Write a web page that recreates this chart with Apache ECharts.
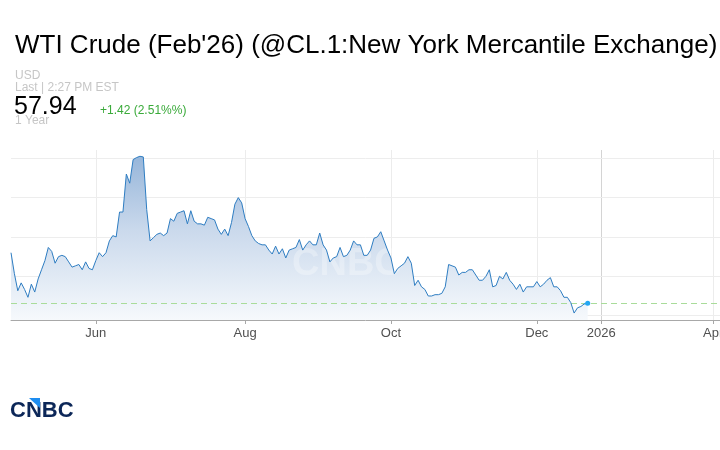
<!DOCTYPE html>
<html>
<head>
<meta charset="utf-8">
<script src="https://cdn.jsdelivr.net/npm/echarts@6/dist/echarts.min.js"></script>
<style>
html,body{margin:0;padding:0;background:#fff;}
#c{width:720px;height:450px;}
</style>
</head>
<body>
<div id="c"></div>
<script>
// ---- data ----
const startDate = '2025-04-28';
const prices = [
61.8,60.2,58.9,59.5,59.0,58.4,59.4,58.8,59.8,60.5,
61.2,62.2,61.9,61.0,61.5,61.6,61.5,61.1,60.7,60.8,
60.9,60.5,61.1,60.6,60.5,61.2,61.8,61.5,61.8,62.7,
63.1,63.0,64.9,64.9,67.8,67.1,68.9,69.05,69.15,69.1,
65.1,62.7,62.95,63.2,63.3,63.1,63.3,64.4,64.2,64.8,
64.9,65.0,64.0,65.0,64.2,64.0,64.0,63.9,64.5,64.4,
64.3,63.6,63.2,63.6,63.1,64.1,65.5,66.0,65.6,64.4,
63.8,63.1,62.7,62.5,62.4,62.4,62.0,61.7,62.3,61.7,
62.1,61.4,62.0,62.1,62.2,62.8,62.0,62.4,62.7,62.4,
62.4,63.3,62.4,62.0,61.1,61.4,61.5,62.2,61.5,61.6,
62.0,62.7,62.4,62.4,61.6,61.6,62.0,62.9,63.0,63.4,
62.7,62.0,61.4,60.2,60.6,60.8,61.0,61.5,61.0,59.3,
59.7,59.2,59.0,58.5,58.5,58.6,58.6,58.7,59.2,60.9,
60.8,60.7,60.1,60.3,60.3,60.5,60.5,60.1,59.7,59.7,
60.0,60.5,59.2,59.3,60.0,59.8,60.3,59.7,59.4,59.0,
59.4,58.8,59.2,59.2,59.2,59.6,59.2,59.4,59.7,59.9,
59.2,59.2,58.9,58.4,58.4,58.0,57.2,57.6,57.7,57.9,
57.94
];
const lastPrice = 57.94;
const tickMonths = ['2025-06','2025-08','2025-10','2025-12','2026-01','2026-04'];
const tickLabels = ['Jun','Aug','Oct','Dec','2026','Apr'];
const gridValues = [57, 60, 63, 66, 69];
const futureSlots = 39;

// ---- categories: trading days for the data, then compressed future slots ----
function fmt(d){ return d.toISOString().slice(0,10); }
const categories = [];
let d = new Date(startDate + 'T00:00:00Z');
while (categories.length < prices.length) {
  const wd = d.getUTCDay();
  if (wd !== 0 && wd !== 6) categories.push(fmt(d));
  d = new Date(d.getTime() + 86400000);
}
const lastDay = new Date(categories[categories.length-1] + 'T00:00:00Z');
for (let k = 1; k <= futureSlots; k++) {
  categories.push(fmt(new Date(lastDay.getTime() + Math.round(k*2.75)*86400000)));
}
function isTick(i){
  const m = categories[i].slice(0,7);
  if (tickMonths.indexOf(m) < 0) return false;
  return i > 0 && categories[i-1].slice(0,7) !== m;
}

const FONT = '"Liberation Sans", Arial, Helvetica, sans-serif';
const chart = echarts.init(document.getElementById('c'), null, {renderer:'canvas'});
chart.setOption({
  animation: false,
  backgroundColor: '#fff',
  grid: {left: 11, right: 0, top: 150, bottom: 130, containLabel: false, outerBoundsMode: 'none'},
  xAxis: {
    type: 'category',
    data: categories,
    boundaryGap: false,
    axisLine: {show: true, lineStyle: {color: '#a8a8a8', width: 1}},
    axisTick: {show: true, interval: isTick, length: 4, lineStyle: {color: '#a8a8a8'}},
    axisLabel: {
      interval: isTick, margin: 7, fontSize: 13, color: '#505050', fontFamily: FONT,
      hideOverlap: false,
      formatter: v => tickLabels[tickMonths.indexOf(v.slice(0,7))] || ''
    },
    splitLine: {show: true, interval: isTick,
      lineStyle: {color: ['#ececec','#ececec','#ececec','#ececec','#d4d4d4','#ececec'], width: 1}}
  },
  yAxis: {
    type: 'value', min: 56.67, max: 69.63,
    axisLine: {show: false}, axisTick: {show: false}, axisLabel: {show: false},
    splitLine: {show: false}
  },
  series: [
    {
      type: 'line', data: [], z: 0, silent: true,
      markLine: {
        z: 0, silent: true, symbol: 'none', label: {show: false},
        lineStyle: {type: 'solid', color: '#ededed', width: 1},
        data: gridValues.map(v => ({yAxis: v}))
      }
    },
    {
      type: 'line', data: prices, z: 2, silent: true,
      showSymbol: false, smooth: false,
      lineStyle: {width: 0, opacity: 0},
      areaStyle: {
        opacity: 1,
        color: new echarts.graphic.LinearGradient(0,0,0,1,[
          {offset: 0, color: '#97b6da'},
          {offset: 0.45, color: '#cad9ec'},
          {offset: 1, color: '#f6f9fc'}
        ])
      }
    },
    {
      type: 'line', data: prices, z: 4,
      showSymbol: false, smooth: false,
      lineStyle: {color: '#2e7dc2', width: 1},
      markLine: {
        z: 4, silent: true, symbol: 'none', label: {show: false},
        lineStyle: {type: [6,4], color: '#a9dc9a', width: 1},
        data: [{yAxis: lastPrice}]
      },
      markPoint: {
        symbol: 'circle', symbolSize: 5, label: {show: false},
        itemStyle: {color: '#22a6f2'},
        data: [{coord: [categories[prices.length-1], prices[prices.length-1]]}]
      }
    },
    {
      type: 'line', z: 5, showSymbol: false,
      lineStyle: {color: '#2aa8f0', width: 1.5},
      data: prices.map((v,i) => i >= prices.length-2 ? v : null)
    }
  ],
  graphic: [
    {type:'text', left: 15, top: 33, style:{text:"WTI Crude (Feb'26) (@CL.1:New York Mercantile Exchange)", font:'26px '+FONT, fill:'#000'}},
    {type:'text', left: 15, top: 70, style:{text:'USD', font:'12px '+FONT, fill:'#c6c6c6'}},
    {type:'text', left: 15, top: 82, style:{text:'Last | 2:27 PM EST', font:'12px '+FONT, fill:'#c6c6c6'}},
    {type:'text', left: 14, top: 95, style:{text:'57.94', font:'25px '+FONT, fill:'#000'}},
    {type:'text', left: 100, top: 105, style:{text:'+1.42 (2.51%%)', font:'12px '+FONT, fill:'#3aaa3a'}},
    {type:'text', left: 15, top: 115, style:{text:'1 Year', font:'12px '+FONT, fill:'#c6c6c6'}},
    {type:'text', left: 292, top: 246, z: 3, silent: true, style:{text:'CNBC', font:'bold 38px '+FONT, fill:'rgba(255,255,255,0.3)'}},
    {type:'text', left: 10, top: 400, style:{text:'CNBC', font:'bold 22px '+FONT, fill:'#0c2758'}},
    {type:'polygon', shape:{points:[[29,398],[40,398],[40,408]]}, style:{fill:'#1d8df0'}}
  ]
});
</script>
</body>
</html>
